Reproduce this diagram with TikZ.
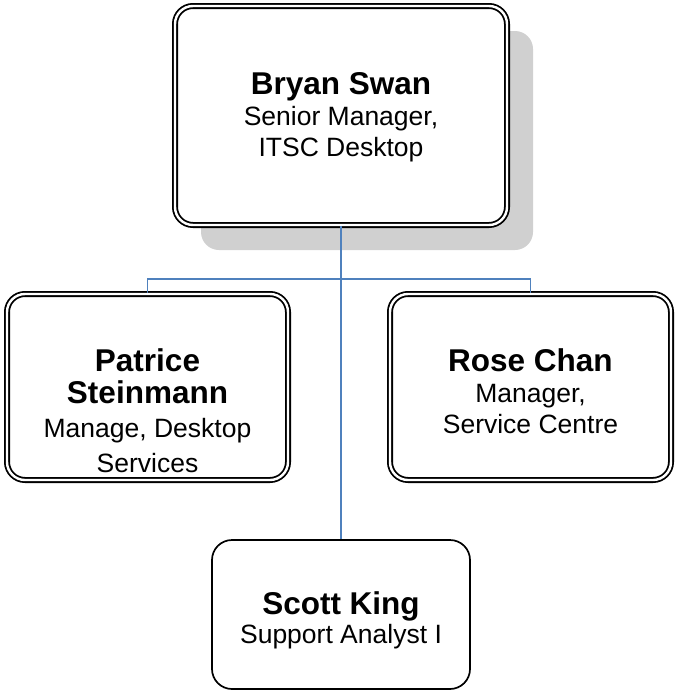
\documentclass[tikz,border=0pt]{standalone}
\usepackage{fontspec}
\setmainfont{Liberation Sans}
\usetikzlibrary{shadows}
\definecolor{conn}{HTML}{4F81BD}
\definecolor{shade}{HTML}{D0D0D0}
\newcommand{\namefont}{\fontsize{31.5}{36}\selectfont\bfseries}
\newcommand{\subfont}{\fontsize{26.5}{31}\selectfont}
\tikzset{
  dblbox/.style={draw=black, line width=1.8pt, double=white, double distance=2.4pt,
    rounded corners=18pt, fill=white, inner sep=0pt},
  sglbox/.style={draw=black, line width=1.7pt, rounded corners=20pt, fill=white, inner sep=0pt},
  boxtext/.style={align=center, inner sep=0pt, anchor=north, font=\subfont},
  connector/.style={draw=conn, line width=1.6pt},
  topshadow/.style={drop shadow={shadow xshift=26pt, shadow yshift=-25pt, fill=shade, opacity=1}}
}
\begin{document}
\begin{tikzpicture}[x=1pt, y=-1pt]
\useasboundingbox (0,0) rectangle (675,691);
% boxes
\node[dblbox, topshadow, minimum width=332pt, minimum height=219pt] (bryan) at (341,115.5) {};
\node[dblbox, minimum width=281pt, minimum height=186pt] (patrice) at (147.5,387) {};
\node[dblbox, minimum width=281pt, minimum height=186pt] (rose) at (530.5,387) {};
\node[sglbox, minimum width=258pt, minimum height=149pt] (scott) at (341,614.5) {};
% connectors
\coordinate (hub) at (bryan.south |- 0,279);
\draw[connector] (bryan.south) -- (scott.north);
\draw[connector] (patrice.north) |- (hub) -| (rose.north);
% texts
\node[boxtext] (bryan-t) at (341,72) {{\namefont Bryan Swan}\\[0pt]Senior Manager,\\ITSC Desktop};
\node[boxtext] (patrice-t) at (147.5,348) {{\namefont Patrice}\\[1pt]{\namefont Steinmann}\\[3pt]Manage, Desktop\\[4pt]Services};
\node[boxtext] (rose-t) at (530.5,348) {{\namefont Rose Chan}\\[0pt]Manager,\\Service Centre};
\node[boxtext] (scott-t) at (341,591) {{\namefont Scott King}\\[-2pt]Support Analyst I};
\end{tikzpicture}
\end{document}
